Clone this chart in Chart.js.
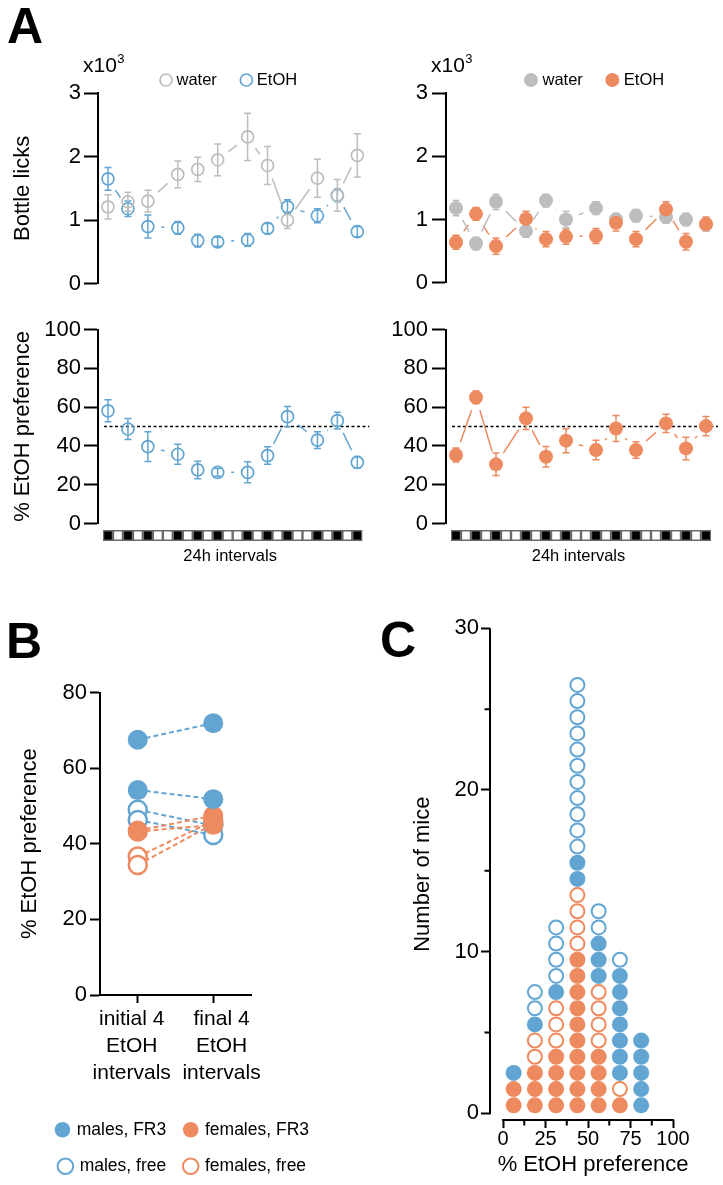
<!DOCTYPE html>
<html>
<head>
<meta charset="utf-8">
<script src="https://cdn.jsdelivr.net/npm/chart.js@4.4.1/dist/chart.umd.min.js"></script>
<style>
  html, body { margin: 0; padding: 0; background: #fff; overflow: hidden; }
  #fig { position: relative; width: 723px; height: 1185px; font-family: 'Liberation Sans', Arial, sans-serif; }
  #fig canvas { position: absolute; }
  .panel { position: absolute; font: bold 50px 'Liberation Sans', Arial, sans-serif; line-height: 1; color: #000; }
</style>
</head>
<body>
<div id="fig">
  <div class="panel" style="left:7px;top:1px">A</div>
  <div class="panel" style="left:6px;top:616px">B</div>
  <div class="panel" style="left:380px;top:615px">C</div>
  <canvas id="licksMales" width="370" height="300" style="left:0;top:0"></canvas>
  <canvas id="licksFemales" width="358" height="300" style="left:365px;top:0"></canvas>
  <canvas id="prefMales" width="370" height="300" style="left:0;top:300px"></canvas>
  <canvas id="prefFemales" width="358" height="300" style="left:365px;top:300px"></canvas>
  <canvas id="pairs" width="366" height="585" style="left:0;top:600px"></canvas>
  <canvas id="distribution" width="357" height="585" style="left:366px;top:600px"></canvas>
</div>
<script>
(function() {
    'use strict';

    // light/dark half days under panel A (1 = dark), and where the 24h points sit on it
    var blockPattern = [1, 0, 1, 0, 1, 0, 0, 1, 0, 1, 0, 1, 0, 0, 1, 0, 1, 0, 1, 0, 0, 1, 0, 1, 0, 1];
    var intervalPos = [0, 2, 4, 7, 9, 11, 14, 16, 18, 21, 23, 25];

    // A: bottle licks (x10^3), mean and sem
    var malesWaterLicks = [1.21, 1.29, 1.30, 1.72, 1.80, 1.95, 2.31, 1.86, 1.00, 1.66, 1.39, 2.02];
    var malesWaterErr = [0.19, 0.15, 0.17, 0.21, 0.19, 0.25, 0.37, 0.30, 0.13, 0.30, 0.25, 0.34];
    var malesEtohLicks = [1.65, 1.18, 0.90, 0.88, 0.68, 0.66, 0.69, 0.87, 1.21, 1.07, 1.39, 0.82];
    var malesEtohErr = [0.18, 0.12, 0.18, 0.10, 0.10, 0.07, 0.10, 0.08, 0.11, 0.11, 0.10, 0.08];
    var femalesWaterLicks = [1.18, 0.62, 1.28, 0.82, 1.30, 1.00, 1.18, 1.00, 1.06, 1.04, 1.00, 0.92];
    var femalesWaterErr = [0.12, 0.10, 0.12, 0.10, 0.10, 0.13, 0.10, 0.10, 0.10, 0.10, 0.10, 0.10];
    var femalesEtohLicks = [0.64, 1.09, 0.58, 1.01, 0.69, 0.73, 0.74, 0.95, 0.69, 1.16, 0.65, 0.93];
    var femalesEtohErr = [0.11, 0.10, 0.13, 0.12, 0.12, 0.12, 0.12, 0.13, 0.12, 0.12, 0.13, 0.11];

    // A: % EtOH preference
    var malesPref = [58.1, 48.7, 39.6, 35.7, 27.6, 26.4, 26.4, 35.0, 55.1, 43.0, 53.0, 31.5];
    var malesPrefErr = [5.7, 5.4, 7.7, 5.2, 4.5, 2.0, 5.4, 4.5, 5.2, 4.3, 4.3, 3.0];
    var femalesPref = [35.3, 65.0, 30.5, 54.2, 34.4, 42.7, 37.9, 49.0, 37.9, 51.6, 38.7, 50.2];
    var femalesPrefErr = [3.6, 3.3, 5.8, 5.7, 5.3, 6.2, 5.0, 6.7, 4.3, 4.7, 5.8, 5.0];
    var prefChance = 50;

    // B: initial vs final preference per mouse
    var bCategories = [['initial 4', 'EtOH', 'intervals'], ['final 4', 'EtOH', 'intervals']];
    var malesFR3Initial = [67.5, 54.2];
    var malesFR3Final = [71.9, 51.8];
    var femalesFR3Initial = [43.5, 43.2];
    var femalesFR3Final = [47.4, 45.0];
    var malesFreeInitial = [49.0, 46.3];
    var malesFreeFinal = [44.8, 42.3];
    var femalesFreeInitial = [36.6, 34.4];
    var femalesFreeFinal = [46.0, 45.2];

    // C: number of mice per preference bin
    var prefBins = [6.25, 18.75, 31.25, 43.75, 56.25, 68.75, 81.25];
    var femalesFR3Counts = [2, 3, 4, 10, 4, 1, 0];
    var femalesFreeCounts = [0, 2, 3, 4, 4, 1, 0];
    var malesFR3Counts = [1, 1, 1, 2, 3, 7, 5];
    var malesFreeCounts = [0, 2, 4, 11, 2, 1, 0];
    var cXTicks = [0, 25, 50, 75, 100];
    var cXMinor = [12.5, 37.5, 62.5, 87.5];
    var cYTicks = [0, 10, 20, 30];
    var cYMinor = [5, 15, 25];

    var BLUE = '#62a5d2';
    var ORANGE = '#ee8a5f';
    var GRAY = '#bdbdbd';
    var FONT = "'Liberation Sans', Arial, sans-serif";
    var GAP = 13.5;
    var B_LABEL_SHIFT = [-0.08, 0.11];

    Chart.defaults.font.family = FONT;
    Chart.defaults.color = '#000';
    Chart.defaults.animation = false;
    Chart.defaults.responsive = false;
    Chart.defaults.events = [];
    Chart.defaults.plugins.tooltip.enabled = false;

    var toPoints = function(values) {
        return intervalPos.map(function(x, i) { return { x: x, y: values[i] }; });
    };

    var seriesSet = function(label, values, errors, color, filled, order) {
        return {
            label: label,
            data: toPoints(values),
            errors: errors,
            lineColor: color,
            filled: filled,
            order: order,
            pointRadius: filled ? 7 : 6,
            pointBorderWidth: filled ? 0 : 1.7,
            pointBorderColor: color,
            pointBackgroundColor: filled ? color : 'rgba(0,0,0,0)',
            clip: false
        };
    };

    //error bars, broken connectors, chance line, light/dark bar, legend
    var timelinePlugin = function(opts) {
        return {
            id: 'timeline',
            beforeDatasetsDraw: function(chart) {
                var ctx = chart.ctx;
                var area = chart.chartArea;
                var ys = chart.scales.y;
                ctx.save();
                if (opts.refLine !== undefined) {
                    var yy = ys.getPixelForValue(opts.refLine);
                    ctx.setLineDash([3, 2.5]);
                    ctx.lineWidth = 1.5;
                    ctx.strokeStyle = '#000';
                    ctx.beginPath();
                    ctx.moveTo(area.left + 6, yy);
                    ctx.lineTo(area.right + 7, yy);
                    ctx.stroke();
                    ctx.setLineDash([]);
                }
                for (var i = chart.data.datasets.length - 1; i >= 0; i--) {
                    var ds = chart.data.datasets[i];
                    var pts = chart.getDatasetMeta(i).data;
                    ctx.strokeStyle = ds.lineColor;
                    ctx.lineWidth = 1.5;
                    for (var j = 0; j + 1 < pts.length; j++) {
                        var a = pts[j], b = pts[j + 1];
                        var dx = b.x - a.x, dy = b.y - a.y;
                        var len = Math.sqrt(dx * dx + dy * dy);
                        if (len <= 2 * GAP) continue;
                        ctx.beginPath();
                        ctx.moveTo(a.x + dx / len * GAP, a.y + dy / len * GAP);
                        ctx.lineTo(b.x - dx / len * GAP, b.y - dy / len * GAP);
                        ctx.stroke();
                    }
                    ds.errors.forEach(function(e, k) {
                        var v = ds.data[k].y;
                        var x = pts[k].x;
                        var y1 = ys.getPixelForValue(v + e);
                        var y2 = ys.getPixelForValue(v - e);
                        ctx.beginPath();
                        ctx.moveTo(x, y1); ctx.lineTo(x, y2);
                        ctx.moveTo(x - 3.5, y1); ctx.lineTo(x + 3.5, y1);
                        ctx.moveTo(x - 3.5, y2); ctx.lineTo(x + 3.5, y2);
                        ctx.stroke();
                    });
                }
                ctx.restore();
            },
            afterDraw: function(chart) {
                var ctx = chart.ctx;
                var area = chart.chartArea;
                var xs = chart.scales.x;
                ctx.save();
                if (opts.cycleBar) {
                    var top = area.bottom + 6.5, h = 11;
                    var x0 = xs.getPixelForValue(-0.5);
                    var x1 = xs.getPixelForValue(blockPattern.length - 0.5);
                    ctx.fillStyle = '#6a6a6a';
                    ctx.fillRect(x0, top, x1 - x0, h);
                    blockPattern.forEach(function(dark, i) {
                        var a = xs.getPixelForValue(i - 0.5);
                        var b = xs.getPixelForValue(i + 0.5);
                        ctx.fillStyle = dark ? '#000' : '#fff';
                        ctx.fillRect(a + 1.2, top + 1.5, b - a - 2.4, h - 3);
                    });
                }
                if (opts.legend) {
                    var ly = area.top - 13;
                    var cx = 166;
                    ctx.font = '16.5px ' + FONT;
                    ctx.textBaseline = 'middle';
                    ctx.textAlign = 'left';
                    chart.data.datasets.forEach(function(ds) {
                        var r = ds.filled ? 7 : 6;
                        ctx.beginPath();
                        ctx.arc(cx, ly, r, 0, Math.PI * 2);
                        if (ds.filled) {
                            ctx.fillStyle = ds.lineColor;
                            ctx.fill();
                        } else {
                            ctx.lineWidth = 1.7;
                            ctx.strokeStyle = ds.lineColor;
                            ctx.stroke();
                        }
                        ctx.fillStyle = '#000';
                        ctx.fillText(ds.label, cx + r + 4.5, ly);
                        cx += r + 4.5 + ctx.measureText(ds.label).width + 29.5;
                    });
                    var tx = area.left - 15, ty = area.top - 21;
                    ctx.textBaseline = 'alphabetic';
                    ctx.font = '21px ' + FONT;
                    ctx.fillText('x10', tx, ty);
                    var w = ctx.measureText('x10').width;
                    ctx.font = '13px ' + FONT;
                    ctx.fillText('3', tx + w + 0.5, ty - 9);
                }
                ctx.restore();
            }
        };
    };

    var timelineChart = function(id, opts) {
        return new Chart(document.getElementById(id), {
            type: 'scatter',
            data: { datasets: opts.datasets },
            options: {
                layout: { padding: opts.padding },
                plugins: { legend: { display: false } },
                scales: {
                    x: {
                        type: 'linear', min: -1, max: 25.5,
                        display: !!opts.xTitle,
                        grid: { display: false },
                        border: { display: false },
                        ticks: { display: false },
                        title: { display: !!opts.xTitle, text: opts.xTitle, font: { size: 16.5 }, padding: { top: 0, bottom: 4 } },
                        afterFit: function(s) { if (opts.xTitle) s.height = 46.5; }
                    },
                    y: {
                        min: opts.yMin, max: opts.yMax,
                        ticks: { stepSize: opts.yStep, font: { size: 22 }, padding: opts.tickPad, color: '#000' },
                        grid: { drawOnChartArea: false, tickLength: 14, tickWidth: 2, tickColor: '#000' },
                        border: { color: '#000', width: 2 },
                        title: { display: !!opts.yTitle, text: opts.yTitle, font: { size: 22 }, padding: { top: 0, bottom: 0 } },
                        afterFit: function(s) { s.width = opts.yWidth; }
                    }
                }
            },
            plugins: [timelinePlugin(opts)]
        });
    };

    timelineChart('licksMales', {
        datasets: [
            seriesSet('water', malesWaterLicks, malesWaterErr, GRAY, false, 0),
            seriesSet('EtOH', malesEtohLicks, malesEtohErr, BLUE, false, 1)
        ],
        padding: { left: 10, right: 7, top: 93, bottom: 13 },
        yMin: 0, yMax: 3, yStep: 1, yWidth: 88, tickPad: 3,
        yTitle: 'Bottle licks', legend: true
    });

    timelineChart('licksFemales', {
        datasets: [
            seriesSet('water', femalesWaterLicks, femalesWaterErr, GRAY, true, 1),
            seriesSet('EtOH', femalesEtohLicks, femalesEtohErr, ORANGE, true, 0)
        ],
        padding: { left: 5, right: 12, top: 93, bottom: 13 },
        yMin: 0, yMax: 3, yStep: 1, yWidth: 76, tickPad: 4,
        legend: true
    });

    timelineChart('prefMales', {
        datasets: [seriesSet('EtOH', malesPref, malesPrefErr, BLUE, false, 0)],
        padding: { left: 10, right: 7, top: 29.5, bottom: 30 },
        yMin: 0, yMax: 100, yStep: 20, yWidth: 88, tickPad: 3,
        yTitle: '% EtOH preference', xTitle: '24h intervals',
        refLine: prefChance, cycleBar: true
    });

    timelineChart('prefFemales', {
        datasets: [seriesSet('EtOH', femalesPref, femalesPrefErr, ORANGE, true, 0)],
        padding: { left: 5, right: 12, top: 29.5, bottom: 30 },
        yMin: 0, yMax: 100, yStep: 20, yWidth: 76, tickPad: 4,
        xTitle: '24h intervals',
        refLine: prefChance, cycleBar: true
    });

    //panel B
    var pairSet = function(label, initial, final, color, filled) {
        var pts = [];
        initial.forEach(function(v, i) {
            if (i > 0) pts.push({ x: 1, y: null });
            pts.push({ x: 0, y: v }, { x: 1, y: final[i] });
        });
        return {
            label: label,
            data: pts,
            borderColor: color,
            borderWidth: 2,
            borderDash: [5, 3],
            spanGaps: false,
            fill: false,
            pointRadius: filled ? 10 : 9,
            pointBorderWidth: filled ? 0 : 2.5,
            pointBorderColor: color,
            pointBackgroundColor: filled ? color : '#fff',
            clip: false
        };
    };

    new Chart(document.getElementById('pairs'), {
        type: 'line',
        data: {
            datasets: [
                pairSet('males, FR3', malesFR3Initial, malesFR3Final, BLUE, true),
                pairSet('females, FR3', femalesFR3Initial, femalesFR3Final, ORANGE, true),
                pairSet('males, free', malesFreeInitial, malesFreeFinal, BLUE, false),
                pairSet('females, free', femalesFreeInitial, femalesFreeFinal, ORANGE, false)
            ]
        },
        options: {
            layout: { padding: { left: 0, right: 0, top: 92.5, bottom: 0 } },
            plugins: {
                legend: {
                    position: 'bottom',
                    labels: {
                        usePointStyle: true, boxWidth: 11, boxHeight: 11, padding: 19,
                        font: { size: 17.5 }, color: '#000',
                        generateLabels: function(chart) {
                            var items = Chart.defaults.plugins.legend.labels.generateLabels(chart);
                            items.forEach(function(it) { if (it.lineWidth) it.lineWidth = 2; });
                            return items;
                        }
                    }
                }
            },
            scales: {
                x: {
                    type: 'linear', min: -0.5, max: 1.5,
                    afterBuildTicks: function(s) { s.ticks = bCategories.map(function(c, i) { return { value: i }; }); },
                    ticks: { display: false },
                    grid: { drawOnChartArea: false, tickLength: 8, tickWidth: 2, tickColor: '#000' },
                    border: { color: '#000', width: 2 },
                    afterFit: function(s) { s.height = 8; }
                },
                xLabels: {
                    type: 'linear', position: 'bottom', axis: 'x', weight: 1, min: -0.5, max: 1.5,
                    afterBuildTicks: function(s) {
                        s.ticks = bCategories.map(function(c, i) { return { value: i + B_LABEL_SHIFT[i] }; });
                    },
                    ticks: {
                        callback: function(v, i) { return bCategories[i]; },
                        font: { size: 21, lineHeight: 1.28 }, padding: 3, maxRotation: 0, autoSkip: false, color: '#000'
                    },
                    grid: { display: false, drawTicks: false },
                    border: { display: false },
                    afterFit: function(s) { s.height = 99; }
                },
                y: {
                    min: 0, max: 80,
                    ticks: { stepSize: 20, font: { size: 22 }, padding: 3, color: '#000' },
                    grid: { drawOnChartArea: false, tickLength: 10, tickWidth: 2, tickColor: '#000' },
                    border: { color: '#000', width: 2 },
                    title: { display: true, text: '% EtOH preference', font: { size: 22 }, padding: { top: 17, bottom: 0 } },
                    afterFit: function(s) { s.width = 100; }
                },
                yPad: {
                    position: 'right',
                    grid: { display: false },
                    border: { display: false },
                    ticks: { display: false },
                    afterFit: function(s) { s.width = 115; }
                }
            }
        }
    });

    //panel C
    var stackDots = function(countsList) {
        var base = prefBins.map(function() { return 0; });
        return countsList.map(function(counts) {
            var pts = [];
            counts.forEach(function(n, b) {
                for (var k = 0; k < n; k++) pts.push({ x: prefBins[b], y: base[b] + k + 0.5 });
                base[b] += n;
            });
            return pts;
        });
    };
    var dots = stackDots([femalesFR3Counts, femalesFreeCounts, malesFR3Counts, malesFreeCounts]);
    var dotSet = function(data, color, filled) {
        return {
            data: data,
            pointRadius: filled ? 8 : 7,
            pointBorderWidth: filled ? 0 : 2,
            pointBorderColor: color,
            pointBackgroundColor: filled ? color : '#fff',
            clip: false
        };
    };

    var axisLines = {
        id: 'axisLines',
        afterDraw: function(chart) {
            var ctx = chart.ctx, area = chart.chartArea;
            var xs = chart.scales.x, ys = chart.scales.y;
            ctx.save();
            ctx.strokeStyle = '#000';
            ctx.lineWidth = 2;
            ctx.beginPath();
            ctx.moveTo(area.left, ys.getPixelForValue(cYTicks[0]) + 1);
            ctx.lineTo(area.left, ys.getPixelForValue(cYTicks[cYTicks.length - 1]));
            ctx.moveTo(xs.getPixelForValue(cXTicks[0]) - 1, area.bottom);
            ctx.lineTo(xs.getPixelForValue(cXTicks[cXTicks.length - 1]) + 1, area.bottom);
            cYMinor.forEach(function(v) {
                var y = ys.getPixelForValue(v);
                ctx.moveTo(area.left, y); ctx.lineTo(area.left - 5.5, y);
            });
            cXMinor.forEach(function(v) {
                var x = xs.getPixelForValue(v);
                ctx.moveTo(x, area.bottom); ctx.lineTo(x, area.bottom + 5.5);
            });
            ctx.stroke();
            ctx.restore();
        }
    };

    new Chart(document.getElementById('distribution'), {
        type: 'scatter',
        data: {
            datasets: [
                dotSet(dots[0], ORANGE, true),
                dotSet(dots[1], ORANGE, false),
                dotSet(dots[2], BLUE, true),
                dotSet(dots[3], BLUE, false)
            ]
        },
        options: {
            layout: { padding: { left: 0, right: 27, top: 28.3, bottom: 0 } },
            plugins: { legend: { display: false } },
            scales: {
                x: {
                    type: 'linear', min: -7.65, max: 113.5,
                    afterBuildTicks: function(s) { s.ticks = cXTicks.map(function(v) { return { value: v }; }); },
                    ticks: {
                        callback: function(v) { return String(v); },
                        font: { family: "'Liberation Sans Narrow', " + FONT, size: 20, lineHeight: 1 },
                        padding: 1, maxRotation: 0, autoSkip: false, color: '#000'
                    },
                    grid: { drawOnChartArea: false, tickLength: 8, tickWidth: 2, tickColor: '#000' },
                    border: { display: false },
                    title: { display: true, text: '% EtOH preference', font: { size: 22 }, padding: { top: 0, bottom: 6.8 } },
                    afterFit: function(s) { s.height = 65; }
                },
                y: {
                    min: -0.41, max: 30,
                    afterBuildTicks: function(s) { s.ticks = cYTicks.map(function(v) { return { value: v }; }); },
                    ticks: { callback: function(v) { return String(v); }, font: { size: 22 }, padding: 2, color: '#000' },
                    grid: { drawOnChartArea: false, tickLength: 9, tickWidth: 2, tickColor: '#000' },
                    border: { display: false },
                    title: { display: true, text: 'Number of mice', font: { size: 22 }, padding: { top: 43.8, bottom: 0 } },
                    afterFit: function(s) { s.width = 124; }
                }
            }
        },
        plugins: [axisLines]
    });
})();
</script>
</body>
</html>
